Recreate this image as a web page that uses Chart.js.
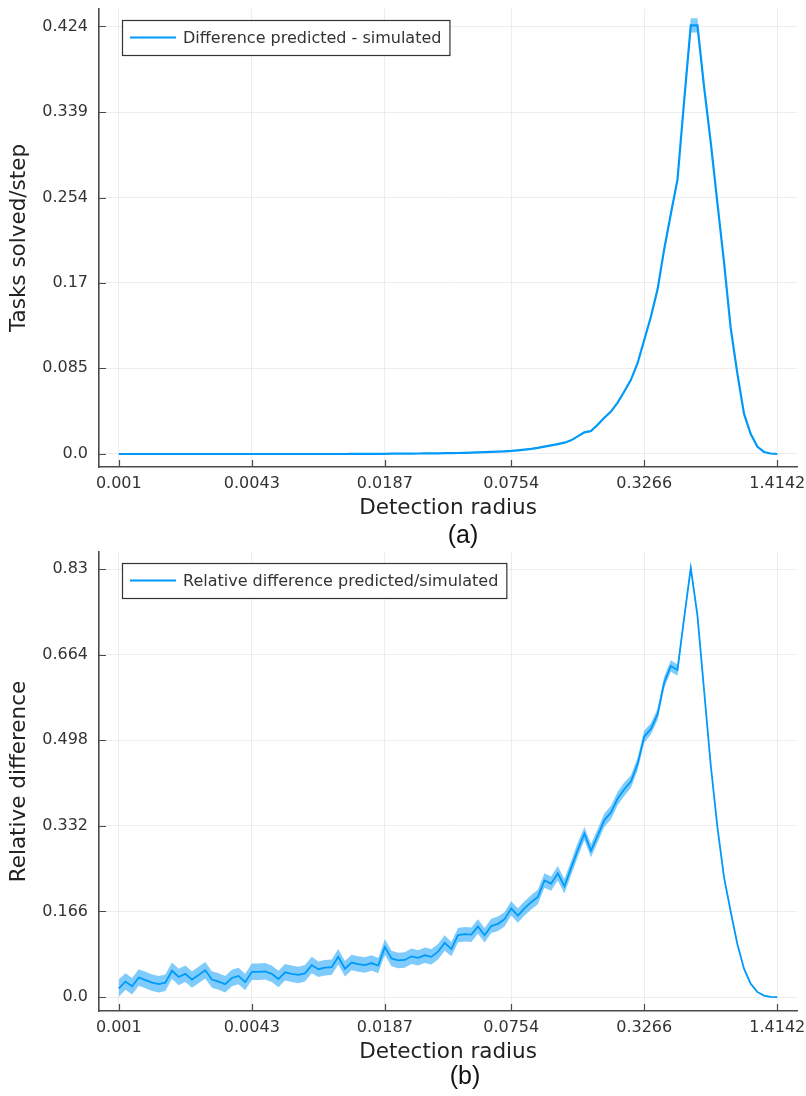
<!DOCTYPE html>
<html lang="en">
<head>
<meta charset="UTF-8">
<title>Detection radius</title>
<script src="https://cdn.jsdelivr.net/npm/chart.js@4"></script>
<style>
  body { margin: 0; background: #fff; width: 806px; height: 1096px; position: relative; overflow: hidden; }
  .panel { position: absolute; left: 0; }
  .tag {
    position: absolute;
    font-family: "Liberation Sans", Arial, sans-serif;
    font-size: 25px;
    color: #111;
    transform: translate(-50%, -50%);
  }
</style>
</head>
<body>
  <canvas id="chartA" class="panel" width="806" height="545" style="top:0"></canvas>
  <canvas id="chartB" class="panel" width="806" height="551" style="top:545px"></canvas>
  <div class="tag" style="left:463px; top:534px">(a)</div>
  <div class="tag" style="left:465px; top:1075px">(b)</div>

<script>
// detection radius grid (100 points, log spaced 0.001 .. sqrt(2))
const radius = [
  0.001, 0.001076, 0.001158, 0.001246, 0.001341, 0.001443, 0.001552, 0.00167, 0.001797, 0.001934,
  0.002081, 0.002239, 0.002409, 0.002592, 0.00279, 0.003002, 0.00323, 0.003475, 0.00374, 0.004024,
  0.00433, 0.004659, 0.005013, 0.005394, 0.005804, 0.006246, 0.006721, 0.007231, 0.007781, 0.008373,
  0.009009, 0.009694, 0.010431, 0.011224, 0.012078, 0.012996, 0.013984, 0.015047, 0.016191, 0.017422,
  0.018747, 0.020172, 0.021706, 0.023356, 0.025132, 0.027043, 0.029099, 0.031311, 0.033692, 0.036253,
  0.039008, 0.041974, 0.045165, 0.048599, 0.052294, 0.056269, 0.060548, 0.065151, 0.070104, 0.075434,
  0.081168, 0.087339, 0.09398, 0.10113, 0.10881, 0.11709, 0.12599, 0.13556, 0.14587, 0.15696,
  0.16889, 0.18173, 0.19555, 0.21041, 0.22641, 0.24363, 0.26215, 0.28208, 0.30352, 0.3266,
  0.35143, 0.37815, 0.4069, 0.43784, 0.47112, 0.50694, 0.54548, 0.58695, 0.63158, 0.6796,
  0.73126, 0.78686, 0.84668, 0.91106, 0.98032, 1.05485, 1.13505, 1.22134, 1.3142, 1.41421
];

// (a) difference predicted - simulated
const tasksSolved = [
  0, 0, 0, 0, 0, 0, 0, 0, 0, 0,
  0, 0, 0, 0, 0, 0, 0, 0, 0, 0,
  0, 0, 0, 0, 0, 0, 0, 0, 0, 0,
  0, 0, 0, 0, 0, 0.0001, 0.0001, 0.0001, 0.0002, 0.0002,
  0.0002, 0.0003, 0.0003, 0.0004, 0.0004, 0.0005, 0.0006, 0.0006, 0.0007, 0.0008,
  0.0009, 0.001, 0.0012, 0.0014, 0.0016, 0.0018, 0.002, 0.0023, 0.0026, 0.003,
  0.0036, 0.0043, 0.005, 0.006, 0.0073, 0.0085, 0.0098, 0.0112, 0.0135, 0.0175,
  0.0215, 0.0228, 0.029, 0.036, 0.042, 0.051, 0.062, 0.0735, 0.09, 0.113,
  0.136, 0.163, 0.203, 0.238, 0.272, 0.35, 0.425, 0.425, 0.364, 0.309,
  0.249, 0.19, 0.125, 0.08, 0.04, 0.02, 0.0073, 0.002, 0.0005, 0
];
const tasksErr = [
  0.0003, 0.0003, 0.0003, 0.0003, 0.0003, 0.0003, 0.0003, 0.0003, 0.0003, 0.0003,
  0.0003, 0.0003, 0.0003, 0.0003, 0.0003, 0.0003, 0.0003, 0.0003, 0.0003, 0.0003,
  0.0003, 0.0003, 0.0003, 0.0003, 0.0003, 0.0003, 0.0003, 0.0003, 0.0003, 0.0003,
  0.0003, 0.0003, 0.0003, 0.0003, 0.0003, 0.0003, 0.0003, 0.0003, 0.0003, 0.0003,
  0.0003, 0.0003, 0.0003, 0.0003, 0.0003, 0.0003, 0.0003, 0.0003, 0.0003, 0.0003,
  0.0003, 0.0003, 0.0003, 0.0003, 0.0003, 0.0003, 0.0003, 0.0003, 0.0003, 0.0003,
  0.0006, 0.0006, 0.0006, 0.0006, 0.0006, 0.0006, 0.0006, 0.0006, 0.0006, 0.0006,
  0.001, 0.001, 0.001, 0.001, 0.001, 0.001, 0.001, 0.001, 0.001, 0.001,
  0.002, 0.002, 0.002, 0.003, 0.003, 0.004, 0.007, 0.007, 0.004, 0.003,
  0.002, 0.002, 0.0015, 0.001, 0.001, 0.0008, 0.0005, 0.0003, 0.0002, 0
];

// (b) relative difference predicted/simulated
const relDiff = [
  0.017, 0.030, 0.021, 0.038, 0.033, 0.028, 0.025, 0.028, 0.051, 0.039,
  0.045, 0.034, 0.043, 0.052, 0.034, 0.030, 0.025, 0.037, 0.041, 0.029,
  0.049, 0.049, 0.050, 0.045, 0.035, 0.048, 0.045, 0.043, 0.046, 0.062,
  0.054, 0.057, 0.058, 0.078, 0.055, 0.067, 0.064, 0.062, 0.066, 0.061,
  0.097, 0.075, 0.071, 0.072, 0.079, 0.076, 0.081, 0.078, 0.088, 0.105,
  0.093, 0.120, 0.122, 0.121, 0.137, 0.120, 0.138, 0.142, 0.151, 0.172,
  0.158, 0.172, 0.184, 0.194, 0.226, 0.220, 0.240, 0.215, 0.250, 0.285,
  0.317, 0.284, 0.313, 0.343, 0.358, 0.385, 0.403, 0.418, 0.452, 0.505,
  0.520, 0.548, 0.610, 0.642, 0.634, 0.735, 0.832, 0.740, 0.595, 0.450,
  0.330, 0.232, 0.166, 0.103, 0.055, 0.026, 0.010, 0.003, 0.0005, 0
];
const relErr = [
  0.017, 0.016, 0.016, 0.016, 0.016, 0.016, 0.016, 0.016, 0.016, 0.016,
  0.016, 0.016, 0.016, 0.016, 0.016, 0.016, 0.016, 0.016, 0.016, 0.016,
  0.016, 0.016, 0.016, 0.016, 0.016, 0.016, 0.016, 0.016, 0.016, 0.016,
  0.015, 0.015, 0.015, 0.015, 0.015, 0.015, 0.015, 0.015, 0.015, 0.015,
  0.015, 0.015, 0.015, 0.015, 0.015, 0.015, 0.015, 0.015, 0.015, 0.015,
  0.014, 0.014, 0.014, 0.014, 0.014, 0.014, 0.014, 0.014, 0.014, 0.014,
  0.014, 0.014, 0.014, 0.014, 0.014, 0.014, 0.014, 0.014, 0.014, 0.014,
  0.013, 0.013, 0.013, 0.013, 0.013, 0.013, 0.013, 0.012, 0.012, 0.012,
  0.011, 0.011, 0.011, 0.011, 0.011, 0.007, 0.006, 0.004, 0.003, 0.002,
  0.0015, 0.0015, 0.0015, 0.001, 0.001, 0.001, 0.0008, 0.0005, 0.0003, 0
];

const xTickValues = [0.001, 0.00433, 0.018747, 0.075434, 0.3266, 1.41421];
const xTickLabels = ['0.001', '0.0043', '0.0187', '0.0754', '0.3266', '1.4142'];
const yTicksA = [0, 0.085, 0.17, 0.254, 0.339, 0.424];
const yTickLabelsA = ['0.0', '0.085', '0.17', '0.254', '0.339', '0.424'];
const yTicksB = [0, 0.166, 0.332, 0.498, 0.664, 0.83];
const yTickLabelsB = ['0.0', '0.166', '0.332', '0.498', '0.664', '0.83'];

const BLUE = '#009AFA';
const BAND = 'rgba(0, 154, 250, 0.5)';
const AXIS = '#4a4a4a';
const GRID = 'rgba(0, 0, 0, 0.07)';
const FONT = '"DejaVu Sans", sans-serif';

Chart.defaults.font.family = FONT;

// framed legend in the top-left corner of the plot area
const legendBox = {
  id: 'legendBox',
  afterDraw(chart, args, opts) {
    const { ctx, chartArea } = chart;
    const x = chartArea.left + 23, y = chartArea.top + 11, h = 35;
    ctx.save();
    ctx.font = '16px ' + FONT;
    const w = 61 + ctx.measureText(opts.text).width + 8;
    ctx.fillStyle = '#fff';
    ctx.fillRect(x, y, w, h);
    ctx.strokeStyle = '#333';
    ctx.lineWidth = 1.2;
    ctx.strokeRect(x + 0.5, y + 0.5, w, h);
    ctx.strokeStyle = BLUE;
    ctx.lineWidth = 2;
    ctx.beginPath();
    ctx.moveTo(x + 8, y + h / 2);
    ctx.lineTo(x + 54, y + h / 2);
    ctx.stroke();
    ctx.fillStyle = '#333';
    ctx.textBaseline = 'middle';
    ctx.fillText(opts.text, x + 61, y + h / 2 + 1);
    ctx.restore();
  }
};

// short tick marks pointing into the plot, like the original
const innerTicks = {
  id: 'innerTicks',
  afterDatasetsDraw(chart) {
    const { ctx, chartArea, scales } = chart;
    ctx.save();
    ctx.strokeStyle = AXIS;
    ctx.lineWidth = 1.2;
    ctx.beginPath();
    scales.x.ticks.forEach(t => {
      const px = Math.round(scales.x.getPixelForValue(t.value)) + 0.5;
      ctx.moveTo(px, chartArea.bottom);
      ctx.lineTo(px, chartArea.bottom - 7);
    });
    scales.y.ticks.forEach(t => {
      const py = Math.round(scales.y.getPixelForValue(t.value)) + 0.5;
      ctx.moveTo(chartArea.left, py);
      ctx.lineTo(chartArea.left + 7, py);
    });
    ctx.stroke();
    ctx.restore();
  }
};

function makeChart(id, values, errs, label, yTitle, yTicks, yLabels, yMin, yMax, padTop, padBottom, lineW) {
  const upper = radius.map((r, i) => ({ x: r, y: values[i] + errs[i] }));
  const lower = radius.map((r, i) => ({ x: r, y: values[i] - errs[i] }));
  const mean = radius.map((r, i) => ({ x: r, y: values[i] }));

  return new Chart(document.getElementById(id), {
    type: 'line',
    data: {
      datasets: [
        { data: upper, borderColor: 'rgba(0,0,0,0)', borderWidth: 0, pointRadius: 0, fill: '+1', backgroundColor: BAND },
        { data: lower, borderColor: 'rgba(0,0,0,0)', borderWidth: 0, pointRadius: 0, fill: false },
        { label: label, data: mean, borderColor: BLUE, borderWidth: lineW, pointRadius: 0, fill: false, tension: 0 }
      ]
    },
    options: {
      responsive: false,
      animation: false,
      devicePixelRatio: 1,
      layout: { padding: { top: padTop, right: 9, bottom: padBottom, left: 0 } },
      plugins: {
        legend: { display: false },
        tooltip: { enabled: false },
        legendBox: { text: label }
      },
      scales: {
        x: {
          type: 'logarithmic',
          min: 0.000804,
          max: 1.758,
          afterBuildTicks: s => { s.ticks = xTickValues.map(v => ({ value: v })); },
          afterFit: s => { s.height = 56; s.paddingLeft = 0; s.paddingRight = 0; },
          ticks: {
            autoSkip: false,
            maxRotation: 0,
            padding: 7,
            color: '#333',
            font: { size: 16 },
            callback: (v, i) => xTickLabels[i]
          },
          grid: { color: GRID, drawTicks: false },
          border: { color: AXIS, width: 1.6 },
          title: {
            display: true,
            text: 'Detection radius',
            color: '#222',
            font: { size: 21.5 },
            padding: { top: 0, bottom: 2 }
          }
        },
        y: {
          min: yMin,
          max: yMax,
          afterBuildTicks: s => { s.ticks = yTicks.map(v => ({ value: v })); },
          afterFit: s => { s.width = 99; s.paddingTop = 0; s.paddingBottom = 0; },
          ticks: {
            padding: 11,
            color: '#333',
            font: { size: 16 },
            callback: (v, i) => yLabels[i]
          },
          grid: { color: GRID, drawTicks: false },
          border: { color: AXIS, width: 1.6 },
          title: {
            display: true,
            text: yTitle,
            color: '#222',
            font: { size: 21.5 },
            padding: { top: 7, bottom: 0 }
          }
        }
      }
    },
    plugins: [innerTicks, legendBox]
  });
}

makeChart('chartA', tasksSolved, tasksErr, 'Difference predicted - simulated', 'Tasks solved/step',
  yTicksA, yTickLabelsA, -0.0129, 0.4412, 9, 22, 2.2);
makeChart('chartB', relDiff, relErr, 'Relative difference predicted/simulated', 'Relative difference',
  yTicksB, yTickLabelsB, -0.027, 0.863, 7, 29, 1.8);
</script>
</body>
</html>
